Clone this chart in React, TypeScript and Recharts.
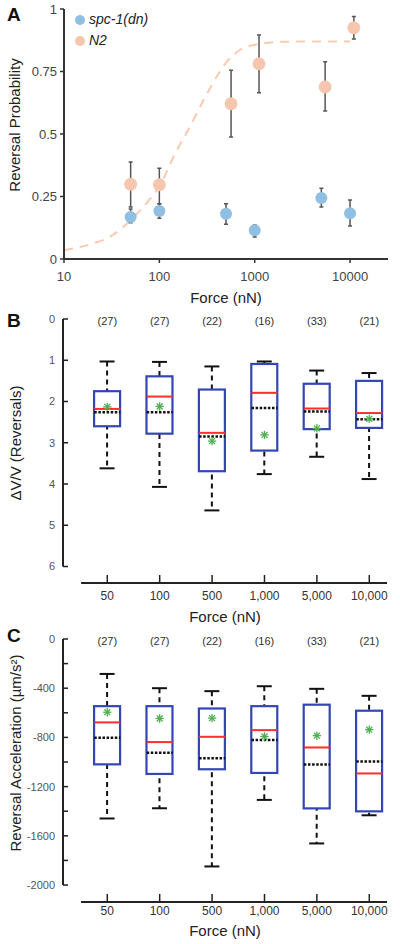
import React from 'react';
import {
  ComposedChart,
  Scatter,
  Line,
  Bar,
  XAxis,
  YAxis,
  ErrorBar,
  Legend,
  ReferenceLine,
} from 'recharts';

const FONT = "'Liberation Sans', Arial, Helvetica, sans-serif";

// ---------- Panel A : reversal probability vs force (log axis) ----------
const probTicks = [0, 0.25, 0.5, 0.75, 1];
const logForceTicks = [10, 100, 1000, 10000];
const seriesNames = ['spc-1(dn)', 'N2'];

const spcForce = [50, 100, 500, 1000, 5000, 10000];
const spcProb = [0.168, 0.192, 0.181, 0.115, 0.244, 0.183];
const spcLow = [0.145, 0.163, 0.139, 0.088, 0.208, 0.132];
const spcHigh = [0.2, 0.221, 0.221, 0.136, 0.283, 0.236];

const n2Force = [50, 100, 565, 1110, 5480, 10960];
const n2Prob = [0.299, 0.297, 0.621, 0.781, 0.688, 0.925];
const n2Low = [0.208, 0.221, 0.488, 0.665, 0.592, 0.88];
const n2High = [0.388, 0.363, 0.755, 0.896, 0.789, 0.97];

const fitForce = [10, 20, 30, 50, 70, 100, 150, 200, 300, 400, 500, 700, 1000, 1500, 2000, 5000, 10000];
const fitProb = [0.035, 0.062, 0.088, 0.155, 0.215, 0.29, 0.43, 0.515, 0.645, 0.73, 0.785, 0.836, 0.857, 0.866, 0.869, 0.87, 0.87];

// ---------- Panels B & C : box plots per force ----------
const forceCategories = ['50', '100', '500', '1,000', '5,000', '10,000'];
const sampleSizes = [27, 27, 22, 16, 33, 21];

// B: ΔV/V (Reversals), axis reversed
const dvWhiskerTop = [1.03, 1.04, 1.15, 1.03, 1.25, 1.31];
const dvBoxTop = [1.75, 1.39, 1.71, 1.09, 1.57, 1.5];
const dvRed = [2.18, 1.88, 2.76, 1.79, 2.17, 2.28];
const dvDotted = [2.26, 2.26, 2.85, 2.16, 2.24, 2.43];
const dvStar = [2.13, 2.12, 2.96, 2.81, 2.65, 2.42];
const dvBoxBottom = [2.6, 2.78, 3.69, 3.19, 2.67, 2.64];
const dvWhiskerBottom = [3.62, 4.07, 4.64, 3.76, 3.34, 3.88];
const dvTicks = [0, 1, 2, 3, 4, 5, 6];

// C: Reversal acceleration (µm/s²)
const accWhiskerTop = [-284, -400, -424, -384, -405, -462];
const accBoxTop = [-546, -546, -565, -546, -534, -583];
const accRed = [-678, -838, -795, -741, -882, -1093];
const accDotted = [-803, -924, -970, -822, -1020, -996];
const accStar = [-595, -646, -643, -792, -786, -737];
const accBoxBottom = [-1019, -1097, -1059, -1089, -1377, -1401];
const accWhiskerBottom = [-1459, -1376, -1849, -1308, -1662, -1433];
const accTicks = [-2000, -1800, -1600, -1400, -1200, -1000, -800, -600, -400, -200, 0];

// ---------- derived tables ----------
const spcData = spcForce.map((x, i) => ({ x, y: spcProb[i], err: [spcProb[i] - spcLow[i], spcHigh[i] - spcProb[i]] }));
const n2Data = n2Force.map((x, i) => ({ x, y: n2Prob[i], err: [n2Prob[i] - n2Low[i], n2High[i] - n2Prob[i]] }));
const fitData = fitForce.map((x, i) => ({ x, y: fitProb[i] }));

const rowsB = forceCategories.map((c, i) => ({
  idx: i,
  whisker: [dvWhiskerTop[i], dvWhiskerBottom[i]],
  box: [dvBoxTop[i], dvBoxBottom[i]],
  red: dvRed[i],
  dotted: dvDotted[i],
  star: dvStar[i],
}));
const rowsC = forceCategories.map((c, i) => ({
  idx: i,
  whisker: [accWhiskerBottom[i], accWhiskerTop[i]],
  box: [accBoxBottom[i], accBoxTop[i]],
  red: accRed[i],
  dotted: accDotted[i],
  star: accStar[i],
}));
const nRows = sampleSizes.map((n, i) => ({ idx: i, zero: 0, n }));
const catTicks = forceCategories.map((c, i) => i);

// category-axis extent (index units)
const X_MIN = -0.845;
const X_MAX = 5.338;
const X_LINE_START = -0.5;
const BOX_W = 26;

// ---------- shapes ----------
const WhiskerShape = (p: any) => {
  const { x, y, width, height } = p;
  const top = Math.min(y, y + height);
  const bottom = Math.max(y, y + height);
  const cx = x + width / 2;
  return (
    <g>
      <line x1={cx} x2={cx} y1={top} y2={bottom} stroke="#111" strokeWidth={2} strokeDasharray="5 4" />
      <line x1={cx - 7.5} x2={cx + 7.5} y1={top} y2={top} stroke="#111" strokeWidth={2} />
      <line x1={cx - 7.5} x2={cx + 7.5} y1={bottom} y2={bottom} stroke="#111" strokeWidth={2} />
    </g>
  );
};

const BoxShape = (p: any) => {
  const { x, y, width, height } = p;
  const top = Math.min(y, y + height);
  const h = Math.abs(height);
  return <rect x={x} y={top} width={width} height={h} fill="#fff" stroke="#3346b4" strokeWidth={2.2} />;
};

const RedLine = (p: any) => (
  <line x1={p.cx - BOX_W / 2} x2={p.cx + BOX_W / 2} y1={p.cy} y2={p.cy} stroke="#ff2e2e" strokeWidth={2} />
);
const DottedLine = (p: any) => (
  <line x1={p.cx - BOX_W / 2} x2={p.cx + BOX_W / 2} y1={p.cy} y2={p.cy} stroke="#111" strokeWidth={2.5} strokeDasharray="2.5 1.6" />
);
const StarShape = (p: any) => {
  const r = 4.2;
  const d = r * 0.7071;
  const { cx, cy } = p;
  return (
    <g stroke="#4cb050" strokeWidth={1.3}>
      <line x1={cx - r} x2={cx + r} y1={cy} y2={cy} />
      <line x1={cx} x2={cx} y1={cy - r} y2={cy + r} />
      <line x1={cx - d} x2={cx + d} y1={cy - d} y2={cy + d} />
      <line x1={cx - d} x2={cx + d} y1={cy + d} y2={cy - d} />
    </g>
  );
};
const NLabel = (p: any) => (
  <text x={p.cx} y={p.cy + 2} textAnchor="middle" dominantBaseline="central" fontSize={11} fill="#333">
    ({p.payload.n})
  </text>
);
const Dot = (color: string, r: number) => (p: any) => <circle cx={p.cx} cy={p.cy} r={r} fill={color} />;

const makeYLabel = (text: string, dx: number, dy: number) => (props: any) => {
  const vb = props.viewBox || { x: 0, y: 0, width: 0, height: 0 };
  const x = vb.x + dx;
  const y = vb.y + vb.height / 2 + dy;
  return (
    <text x={x} y={y} transform={`rotate(-90 ${x} ${y})`} textAnchor="middle" dominantBaseline="central" fontSize={15} fill="#222">
      {text}
    </text>
  );
};

const letterStyle = (top: number): React.CSSProperties => ({
  position: 'absolute',
  left: 7,
  top,
  fontSize: 19,
  lineHeight: '19px',
  fontWeight: 700,
  color: '#111',
});

function BoxPanel(props: {
  rows: any[];
  top: number;
  height: number;
  xAxisHeight: number;
  yDomain: [number, number];
  yTicks: number[];
  reversed: boolean;
  yFmt: (v: number) => string;
  axisFrom: number;
  axisTo: number;
  bottomValue: number;
  yLabel: string;
  yLabelShift: number;
  xTickMargin: number;
}) {
  const p = props;
  return (
    <div style={{ position: 'absolute', left: 0, top: p.top }}>
      <ComposedChart
        width={400}
        height={p.height}
        data={p.rows}
        margin={{ top: 19, right: 13, bottom: 0, left: 0 }}
        barGap={-BOX_W}
        barSize={BOX_W}
      >
        <XAxis
          dataKey="idx"
          type="number"
          domain={[X_MIN, X_MAX]}
          ticks={catTicks}
          interval={0}
          tickFormatter={(v: number) => forceCategories[v]}
          axisLine={false}
          tickSize={-8}
          tickMargin={p.xTickMargin}
          tickLine={{ stroke: '#222', strokeWidth: 1.5 }}
          tick={{ fontSize: 12, fill: '#333' }}
          height={p.xAxisHeight}
          label={{ value: 'Force (nN)', position: 'insideBottom', offset: 8, fontSize: 15, fill: '#222' }}
        />
        <YAxis
          type="number"
          domain={p.yDomain}
          reversed={p.reversed}
          ticks={p.yTicks}
          interval={0}
          tickFormatter={p.yFmt}
          width={63}
          axisLine={false}
          tickSize={-5}
          tickMargin={13}
          tickLine={{ stroke: '#222', strokeWidth: 1.5 }}
          tick={{ fontSize: 11, fill: '#555' }}
          label={makeYLabel(p.yLabel, 15, p.yLabelShift)}
        />
        <ReferenceLine
          segment={[{ x: X_MIN, y: p.axisFrom }, { x: X_MIN, y: p.axisTo }]}
          stroke="#222"
          strokeWidth={2}
          ifOverflow="visible"
        />
        <ReferenceLine
          segment={[{ x: X_LINE_START, y: p.bottomValue }, { x: X_MAX, y: p.bottomValue }]}
          stroke="#222"
          strokeWidth={2}
          ifOverflow="visible"
        />
        <Bar dataKey="whisker" shape={WhiskerShape} isAnimationActive={false} />
        <Bar dataKey="box" shape={BoxShape} isAnimationActive={false} />
        <Scatter dataKey="red" shape={RedLine} isAnimationActive={false} />
        <Scatter dataKey="dotted" shape={DottedLine} isAnimationActive={false} />
        <Scatter dataKey="star" shape={StarShape} isAnimationActive={false} />
        <Scatter data={nRows} dataKey="zero" shape={NLabel} isAnimationActive={false} />
      </ComposedChart>
    </div>
  );
}

export default function App() {
  return (
    <div style={{ position: 'absolute', left: 0, top: 0, width: 400, height: 944, background: '#fff', fontFamily: FONT }}>
      {/* Panel A */}
      <div style={{ position: 'absolute', left: 0, top: 0 }}>
        <ComposedChart width={400} height={310} margin={{ top: 9, right: 12, bottom: 0, left: 0 }}>
          <XAxis
            dataKey="x"
            type="number"
            scale="log"
            domain={[10, 25000]}
            ticks={logForceTicks}
            interval={0}
            height={51}
            tickSize={4}
            tickMargin={9}
            axisLine={{ stroke: '#333', strokeWidth: 2 }}
            tickLine={{ stroke: '#333', strokeWidth: 1.5 }}
            tick={{ fontSize: 13, fill: '#444' }}
            label={{ value: 'Force (nN)', position: 'insideBottom', offset: 7, fontSize: 15, fill: '#222' }}
          />
          <YAxis
            dataKey="y"
            type="number"
            domain={[0, 1]}
            ticks={probTicks}
            interval={0}
            width={64}
            tickSize={4}
            tickMargin={3}
            axisLine={{ stroke: '#333', strokeWidth: 2 }}
            tickLine={{ stroke: '#333', strokeWidth: 1.5 }}
            tick={{ fontSize: 13, fill: '#444' }}
            label={makeYLabel('Reversal Probability', 14, -9)}
          />
          <Legend
            layout="vertical"
            align="center"
            verticalAlign="middle"
            iconType="circle"
            iconSize={10}
            itemSorter={(item: any) => seriesNames.indexOf(item.value)}
            wrapperStyle={{ top: 8.5, left: 75, width: 'auto', fontSize: 14, lineHeight: '21px' }}
            formatter={(v: any) => <span style={{ color: '#222', fontStyle: 'italic' }}>{v}</span>}
          />
          <Line
            data={fitData}
            dataKey="y"
            type="monotone"
            stroke="#f9c9b1"
            strokeWidth={2}
            strokeDasharray="9 7"
            dot={false}
            legendType="none"
            isAnimationActive={false}
          />
          <Scatter name={seriesNames[0]} data={spcData} fill="#8fbfe2" shape={Dot('#8fbfe2', 6)} isAnimationActive={false}>
            <ErrorBar dataKey="err" direction="y" width={2} stroke="#555" strokeWidth={1.5} />
          </Scatter>
          <Scatter name={seriesNames[1]} data={n2Data} fill="#f7c6ae" shape={Dot('#f7c6ae', 6.5)} isAnimationActive={false}>
            <ErrorBar dataKey="err" direction="y" width={2} stroke="#555" strokeWidth={1.5} />
          </Scatter>
        </ComposedChart>
      </div>

      {/* Panel B */}
      <BoxPanel
        rows={rowsB}
        top={300}
        height={330}
        xAxisHeight={47}
        yDomain={[0, 6.4]}
        yTicks={dvTicks}
        reversed={true}
        yFmt={(v: number) => String(v)}
        axisFrom={0}
        axisTo={6}
        bottomValue={6.4}
        yLabel="ΔV/V (Reversals)"
        yLabelShift={-8}
        xTickMargin={16}
      />

      {/* Panel C */}
      <BoxPanel
        rows={rowsC}
        top={620}
        height={324}
        xAxisHeight={42}
        yDomain={[-2138, 0]}
        yTicks={accTicks}
        reversed={false}
        yFmt={(v: number) => (v % 400 === 0 ? String(v) : '')}
        axisFrom={0}
        axisTo={-2000}
        bottomValue={-2138}
        yLabel="Reversal Acceleration (µm/s²)"
        yLabelShift={-17.5}
        xTickMargin={12.5}
      />

      <div style={letterStyle(4.5)}>A</div>
      <div style={letterStyle(310.5)}>B</div>
      <div style={letterStyle(625.5)}>C</div>
    </div>
  );
}
